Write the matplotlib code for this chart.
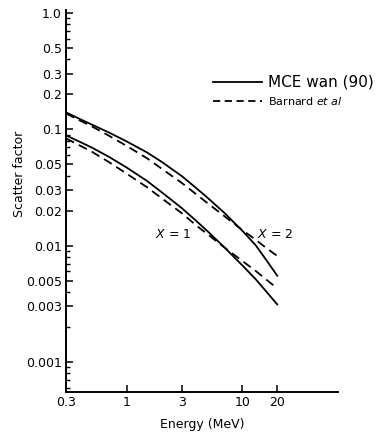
import numpy as np
import matplotlib
matplotlib.use("Agg")
import matplotlib.pyplot as plt
from matplotlib.ticker import FixedLocator, LogLocator, NullLocator, NullFormatter

# energies (MeV)
energia = [0.3, 0.4, 0.5, 0.7, 1, 1.5, 2, 3, 4, 5, 7, 10, 13, 16, 20]

# scatter factor, X = 2
mce_x2 = [0.140, 0.122, 0.110, 0.0942, 0.0788, 0.0633, 0.0527, 0.0396, 0.0312,
          0.0258, 0.0191, 0.0134, 0.0101, 0.00757, 0.00551]
barnard_x2 = [0.137, 0.1184, 0.1061, 0.0884, 0.0721, 0.0564, 0.0460, 0.0346, 0.0276,
              0.0232, 0.0179, 0.0136, 0.01125, 0.00957, 0.00815]

# scatter factor, X = 1
mce_x1 = [0.0888, 0.0776, 0.0698, 0.0582, 0.0470, 0.0360, 0.0289, 0.0210, 0.0163,
          0.0133, 0.00965, 0.00675, 0.00515, 0.00405, 0.00312]
barnard_x1 = [0.0836, 0.0721, 0.0643, 0.0525, 0.0416, 0.0318, 0.0256, 0.0190, 0.0149,
              0.01253, 0.00963, 0.00737, 0.00607, 0.00512, 0.00429]

xticks = [0.3, 1, 3, 10, 20]
xlabels = ["0.3", "1", "3", "10", "20"]
yticks = [1.0, 0.5, 0.3, 0.2, 0.1, 0.05, 0.03, 0.02, 0.01, 0.005, 0.003, 0.001]
ylabels = ["1.0", "0.5", "0.3", "0.2", "0.1", "0.05", "0.03", "0.02", "0.01", "0.005", "0.003", "0.001"]

fig = plt.figure(figsize=(3.87, 4.40), dpi=100)
ax = fig.add_axes([0.1705, 0.109, 0.703, 0.868])

guion = (0, (5, 3))
ax.plot(energia, mce_x2, color="black", lw=1.3)
ax.plot(energia, barnard_x2, color="black", lw=1.3, linestyle=guion)
ax.plot(energia, mce_x1, color="black", lw=1.3)
ax.plot(energia, barnard_x1, color="black", lw=1.3, linestyle=guion)

ax.set_xscale("log")
ax.set_yscale("log")
ax.set_xlim(0.3, 67)
ax.set_ylim(0.00055, 1.06)

ax.xaxis.set_major_locator(FixedLocator(xticks))
ax.set_xticklabels(xlabels)
ax.xaxis.set_minor_locator(NullLocator())
ax.yaxis.set_major_locator(FixedLocator(yticks))
ax.set_yticklabels(ylabels)
ax.yaxis.set_minor_locator(LogLocator(base=10, subs=np.arange(2, 10)))
ax.yaxis.set_minor_formatter(NullFormatter())

ax.tick_params(axis="both", which="major", direction="in", length=5, width=1.1,
               labelsize=9, pad=3)
ax.tick_params(axis="both", which="minor", direction="in", length=3, width=1.0)

for lado in ["top", "right"]:
    ax.spines[lado].set_visible(False)
for lado in ["left", "bottom"]:
    ax.spines[lado].set_linewidth(1.4)

ax.set_xlabel("Energy (MeV)", fontsize=9, labelpad=6)
ax.set_ylabel("Scatter factor", fontsize=9, va="center")
ax.yaxis.set_label_coords(-0.17, 0.57)

# curve labels
ax.text(2.5, 0.0125, "$X$ = 1", fontsize=9, ha="center", va="center")
ax.text(19.2, 0.0125, "$X$ = 2", fontsize=9, ha="center", va="center")

# legend drawn by hand like the original
ax.plot([5.6, 14.8], [0.254, 0.254], color="black", lw=1.3)
ax.text(16.7, 0.254, "MCE wan (90)", fontsize=11, va="center")
ax.plot([5.6, 14.8], [0.174, 0.174], color="black", lw=1.3, linestyle=(0, (4, 2.5)))
ax.text(16.7, 0.174, "Barnard $et\\ al$", fontsize=8, va="center")

fig.savefig("out.png", dpi=100)
